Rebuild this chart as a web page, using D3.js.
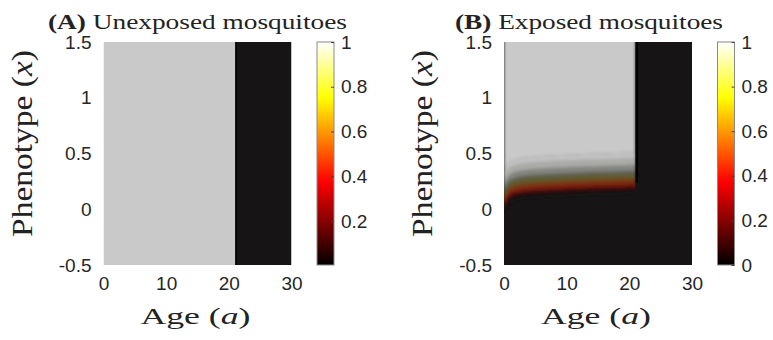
<!DOCTYPE html>
<html>
<head>
<meta charset="utf-8">
<script src="https://cdn.jsdelivr.net/npm/d3@7"></script>
<style>
	body { margin: 0; background: #fff; }
	.tick text { font-family: "Liberation Sans", Arial, sans-serif; font-size: 19px; fill: #262626; }
	.lbl { font-family: "Liberation Serif", "Times New Roman", serif; fill: #222; }
</style>
</head>
<body>
<svg id="chart" width="773" height="340"></svg>
<script>
	// axis ticks
	var ageTicks = [0, 10, 20, 30],
		phenoTicks = [-0.5, 0, 0.5, 1, 1.5],
		cbTicksA = [0.2, 0.4, 0.6, 0.8, 1],
		cbTicksB = [0, 0.2, 0.4, 0.6, 0.8, 1];

	// panel A: vertical strips along age (start, end, value)
	var stripStartA = [0, 21, 21.3],
		stripEndA = [21, 21.3, 30],
		stripValueA = [1, 0, 0.03];

	// panel B: centre of the transition band (phenotype) read at several ages
	var bandAge = [0, 0.3, 0.7, 1.2, 2, 3, 5, 8, 12, 16, 20, 21],
		bandCentre = [0.07, 0.11, 0.145, 0.165, 0.182, 0.193, 0.204, 0.214, 0.224, 0.231, 0.238, 0.24];

	// panel B: value profile across the band, offsets relative to the band centre
	var profileOffset = [-0.09, -0.065, -0.045, -0.02, 0, 0.025, 0.05, 0.08, 0.11, 0.16, 0.22, 0.27],
		profileValue = [0.03, 0.05, 0.2, 0.35, 0.42, 0.55, 0.65, 0.72, 0.8, 0.88, 0.96, 1];

	var cutoffAge = 21;

	var svg = d3.select('#chart'),
		plotTop = 42,
		plotBottom = 265,
		plotW = 188,
		cbOffset = 213.5,
		cbW = 17;

	// shading used inside the plots
	var fieldColor = d3.scaleLinear()
		.domain([0, 0.03, 0.2, 0.42, 0.55, 0.65, 0.72, 0.8, 0.88, 1])
		.range(['#030202', '#161414', '#3e0a06', '#8e2412', '#6e3c18', '#6a5e26', '#585a40', '#6e6f68', '#9a9a98', '#c9c9c9'])
		.clamp(true);

	function hot(t)
	{
		var r = Math.min(1, t / 0.375),
			g = Math.max(0, Math.min(1, (t - 0.375) / 0.375)),
			b = Math.max(0, Math.min(1, (t - 0.75) / 0.25));
		return d3.rgb(r * 255, g * 255, b * 255);
	}

	var y = d3.scaleLinear().domain([-0.5, 1.5]).range([plotBottom, plotTop]);

	var defs = svg.append('defs');
	defs.append('filter')
		.attr('id', 'soft')
		.attr('x', '-5%').attr('y', '-20%').attr('width', '110%').attr('height', '140%')
		.append('feGaussianBlur')
		.attr('stdDeviation', 1.6);

	var panels = [
		{ key: 'A', left: 103.5, title: 'Unexposed mosquitoes', titleX: 48, titleLen: 299, cbMin: 0.003, cbTicks: cbTicksA },
		{ key: 'B', left: 504, title: 'Exposed mosquitoes', titleX: 455, titleLen: 268, cbMin: 0, cbTicks: cbTicksB }
	];

	panels.forEach(drawPanel);

	function drawPanel(p)
	{
		var x = d3.scaleLinear().domain([0, 30]).range([p.left, p.left + plotW]);

		defs.append('clipPath')
			.attr('id', 'clip' + p.key)
			.append('rect')
			.attr('x', x(0)).attr('y', plotTop)
			.attr('width', plotW).attr('height', plotBottom - plotTop);

		var g = svg.append('g').attr('clip-path', 'url(#clip' + p.key + ')');

		if (p.key === 'A') {
			g.selectAll('.strip')
				.data(stripStartA)
				.enter()
				.append('rect')
				.attr('x', function(d) { return x(d) })
				.attr('y', plotTop)
				.attr('width', function(d, i) { return x(stripEndA[i]) - x(d) })
				.attr('height', plotBottom - plotTop)
				.attr('fill', function(d, i) { return fieldColor(stripValueA[i]) })
		} else {
			// dark background
			g.append('rect')
				.attr('x', x(0)).attr('y', plotTop)
				.attr('width', plotW).attr('height', plotBottom - plotTop)
				.attr('fill', fieldColor(0.03));

			var pts = bandAge.map(function(a, i) { return [a, bandCentre[i]] });
			var band = g.append('g').attr('filter', 'url(#soft)');

			// light region above the band
			band.append('path')
				.attr('fill', fieldColor(1))
				.attr('d', d3.area()
					.curve(d3.curveMonotoneX)
					.x(function(d) { return x(d[0]) })
					.y0(function(d) { return y(d[1] + profileOffset[profileOffset.length - 1]) })
					.y1(y(1.6))(pts));

			profileOffset.slice(0, -1).forEach(function(off, i) {
				var c = fieldColor((profileValue[i] + profileValue[i + 1]) / 2);
				band.append('path')
					.attr('fill', c)
					.attr('stroke', c)
					.attr('stroke-width', 0.6)
					.attr('d', d3.area()
						.curve(d3.curveMonotoneX)
						.x(function(d) { return x(d[0]) })
						.y0(function(d) { return y(d[1] + off) })
						.y1(function(d) { return y(d[1] + profileOffset[i + 1]) })(pts));
			});

			// everything past the cutoff age is dark
			g.append('rect')
				.attr('x', x(cutoffAge)).attr('y', plotTop)
				.attr('width', x(30) - x(cutoffAge)).attr('height', plotBottom - plotTop)
				.attr('fill', fieldColor(0.03));
			g.append('rect')
				.attr('x', x(cutoffAge)).attr('y', plotTop)
				.attr('width', x(21.4) - x(cutoffAge))
				.attr('height', y(bandCentre[bandCentre.length - 1]) - plotTop)
				.attr('fill', fieldColor(0));
		}

		// axes
		svg.append('g')
			.attr('transform', 'translate(0,' + plotBottom + ')')
			.call(d3.axisBottom(x).tickValues(ageTicks).tickSize(0).tickPadding(12).tickFormat(function(d) { return String(d) }))
			.call(function(s) { s.select('.domain').remove() });

		svg.append('g')
			.attr('transform', 'translate(' + x(0) + ',0)')
			.call(d3.axisLeft(y).tickValues(phenoTicks).tickSize(0).tickPadding(12).tickFormat(function(d) { return String(d) }))
			.call(function(s) { s.select('.domain').remove() });

		// labels
		var t = svg.append('text')
			.attr('class', 'lbl')
			.attr('x', p.titleX).attr('y', 29)
			.attr('font-size', 21)
			.attr('textLength', p.titleLen)
			.attr('lengthAdjust', 'spacingAndGlyphs');
		t.append('tspan').attr('font-weight', 'bold').text('(' + p.key + ')');
		t.append('tspan').text(' ' + p.title);

		var ax = svg.append('text')
			.attr('class', 'lbl')
			.attr('x', x(15) - 57).attr('y', 324)
			.attr('font-size', 23)
			.attr('textLength', 110)
			.attr('lengthAdjust', 'spacingAndGlyphs');
		ax.append('tspan').text('Age (');
		ax.append('tspan').attr('font-style', 'italic').text('a');
		ax.append('tspan').text(')');

		var ay = svg.append('text')
			.attr('class', 'lbl')
			.attr('transform', 'translate(' + (p.left - 72) + ',' + 237 + ') rotate(-90)')
			.attr('font-size', 29)
			.attr('textLength', 187)
			.attr('lengthAdjust', 'spacingAndGlyphs');
		ay.append('tspan').text('Phenotype (');
		ay.append('tspan').attr('font-style', 'italic').text('x');
		ay.append('tspan').text(')');

		// colorbar
		var cbX = p.left + cbOffset,
			cy = d3.scaleLinear().domain([p.cbMin, 1]).range([plotBottom, plotTop]);

		var grad = defs.append('linearGradient')
			.attr('id', 'cb' + p.key)
			.attr('x1', 0).attr('y1', 1).attr('x2', 0).attr('y2', 0);
		grad.selectAll('stop')
			.data(d3.range(0, 1.0001, 0.025))
			.enter()
			.append('stop')
			.attr('offset', function(d) { return d })
			.attr('stop-color', function(d) { return hot(p.cbMin + d * (1 - p.cbMin)) });

		svg.append('rect')
			.attr('x', cbX).attr('y', plotTop)
			.attr('width', cbW).attr('height', plotBottom - plotTop)
			.attr('fill', 'url(#cb' + p.key + ')')
			.attr('stroke', '#8a8a8a')
			.attr('stroke-width', 1);

		svg.append('g')
			.attr('transform', 'translate(' + (cbX + cbW) + ',0)')
			.call(d3.axisRight(cy).tickValues(p.cbTicks).tickSizeInner(-3).tickSizeOuter(0).tickPadding(7).tickFormat(function(d) { return String(d) }))
			.call(function(s) {
				s.select('.domain').remove();
				s.selectAll('.tick line').attr('stroke', '#444');
			});
	}
</script>
</body>
</html>
